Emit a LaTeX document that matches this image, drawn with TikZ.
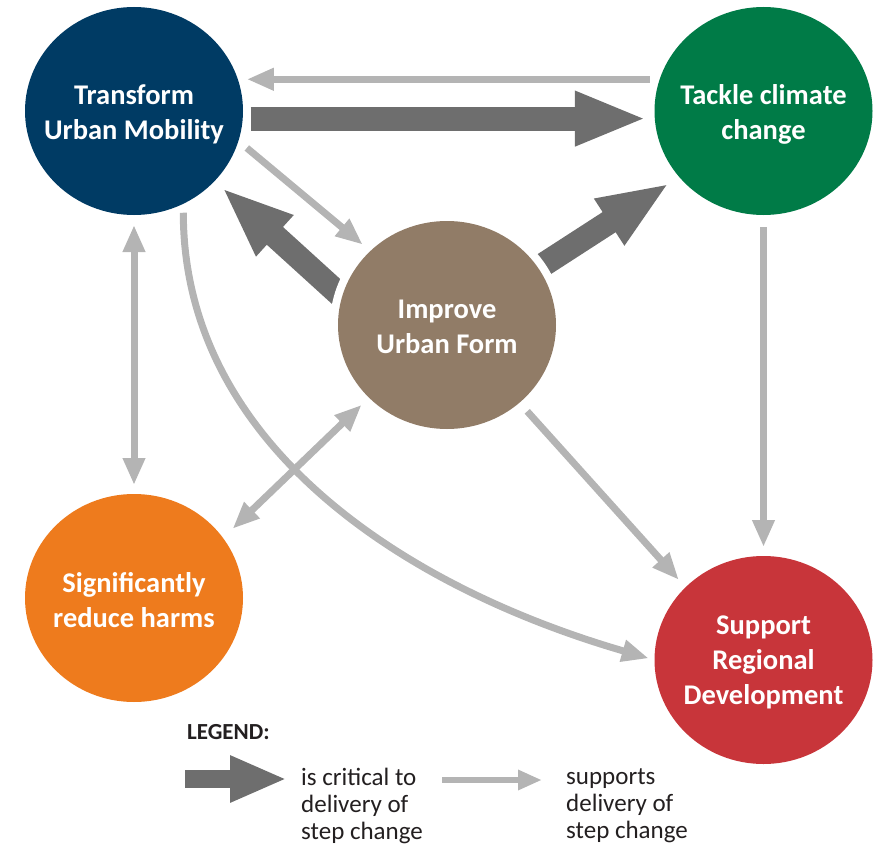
\documentclass[tikz,border=0pt]{standalone}
\usepackage{fontspec}
\setmainfont{Carlito}
\usetikzlibrary{shapes.geometric,arrows.meta}
\definecolor{cblue}{HTML}{003B64}
\definecolor{cgreen}{HTML}{007B47}
\definecolor{cbrown}{HTML}{917C67}
\definecolor{corange}{HTML}{EE7B1D}
\definecolor{cred}{HTML}{C8353A}
\definecolor{cdark}{HTML}{6E6E6E}
\definecolor{clight}{HTML}{B4B4B4}
\definecolor{ctext}{HTML}{231F20}
\pgfdeclarelayer{bg}
\pgfsetlayers{bg,main}
\tikzset{
  goal/.style={shape=ellipse, minimum width=218pt, minimum height=208pt, inner sep=0pt, outer sep=0pt,
    preaction={draw=white, line width=#1}},
  goal/.default=6pt,
  goaltext/.style={text=white, font=\bfseries\fontsize{28.5}{35}\selectfont, align=center},
  critical/.style={draw=cdark, line width=24pt, -{Triangle[length=72pt,width=50pt]}},
  criticalsmall/.style={draw=cdark, line width=18pt, -{Triangle[length=57pt,width=43pt]}},
  support/.style={draw=clight, line width=7pt, -{Triangle[length=27pt,width=21pt]}},
  supportboth/.style={draw=clight, line width=7pt, {Triangle[length=27pt,width=21pt]}-{Triangle[length=27pt,width=21pt]}},
  supportsmall/.style={draw=clight, line width=6pt, -{Triangle[length=24pt,width=19pt]}},
  legendtitle/.style={font=\bfseries\fontsize{23}{26}\selectfont, text=ctext, inner sep=0pt},
  legendtext/.style={font=\fontsize{25}{27}\selectfont, text=ctext, align=left, inner sep=0pt}
}
\begin{document}
\begin{tikzpicture}[x=1pt,y=-1pt]
\useasboundingbox (0,0) rectangle (881,848);
% goals
\node[goal, fill=cblue] (tum) at (134,111) {};
\node[goaltext] (tumt) at (134,114) {Transform\\Urban Mobility};
\node[goal, fill=cgreen] (tcc) at (763.5,111) {};
\node[goaltext] (tcct) at (763.5,114) {Tackle climate\\change};
\node[goal=16pt, fill=cbrown] (iuf) at (447,325) {};
\node[goaltext] (ituft) at (447,327) {Improve\\Urban Form};
\node[goal, fill=corange] (srh) at (134,598) {};
\node[goaltext] (srht) at (134,600) {Significantly\\reduce harms};
\node[goal, fill=cred] (srd) at (763.5,660) {};
\node[goaltext] (srdt) at (763.5,662) {Support\\Regional\\Development};
% connectors
\begin{pgfonlayer}{bg}
\draw[support, shorten <=10pt, shorten >=9pt] (tcc.163) -- (tum.17);
\draw[critical, shorten <=8pt, shorten >=8pt] (tum.-4) -- (tcc.184);
\draw[critical, shorten >=9.5pt] (iuf.165) -- (tum.-41);
\draw[critical, shorten >=11.4pt] (iuf.32.5) -- (tcc.-142);
\draw[support, shorten <=11pt, shorten >=10pt] (tum.-16) -- (iuf.136.5);
\draw[supportboth, shorten <=10pt, shorten >=9pt] (tum.south) -- (srh.north);
\draw[supportboth, shorten <=10.3pt, shorten >=13.3pt] (iuf.-137) -- (srh.34.3);
\draw[support, shorten <=11.6pt, shorten >=10pt] (iuf.-47.4) -- (srd.137);
\draw[support, shorten <=9pt, shorten >=6pt] (tum.-62) .. controls +(0,236) and +(-258,-75) .. (srd.180);
\draw[support, shorten <=12pt, shorten >=9pt] (tcc.south) -- (srd.north);
\end{pgfonlayer}
% legend
\node[legendtitle, anchor=west] (lgt) at (187,732) {LEGEND:};
\coordinate (lc1) at (185,779);
\coordinate (lc2) at (287,779);
\draw[criticalsmall] (lc1) -- (lc2);
\node[legendtext, anchor=west] (lt1) at (301,806) {is critical to\\delivery of\\step change};
\coordinate (ls1) at (442,780);
\coordinate (ls2) at (542,780);
\draw[supportsmall] (ls1) -- (ls2);
\node[legendtext, anchor=west] (lt2) at (566,806) {supports\\delivery of\\step change};
\end{tikzpicture}
\end{document}
